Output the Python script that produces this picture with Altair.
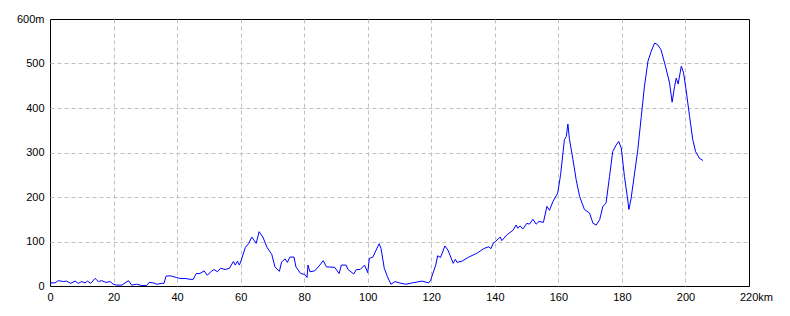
import altair as alt
import pandas as pd

km = [0, 0.3, 1.6, 2.6, 4.2, 5.2, 6.5, 7.9, 8.9, 10, 11, 11.8, 12.8, 14.2, 15.2, 16.3, 17.6, 18.9, 19.9,
      21, 22.6, 24.7, 25.7, 27.3, 28.9, 30.4, 31.2, 32.5, 33.6, 35.2, 35.9, 36.5, 37.8, 38.8, 39.9, 40.9,
      42.5, 44.1, 45.1, 46, 47.2, 48.5, 49.5, 50.6, 51.6, 52.7, 53.7, 55.1, 56.5, 57.7, 58.3, 59, 59.6,
      60, 61.5, 62.5, 63.5, 64.9, 65.8, 67, 68.3, 69.8, 70.8, 72.2, 72.9, 74, 74.7, 75.5, 76.8, 77.4,
      78.9, 80.2, 80.9, 81.2, 81.8, 83.3, 84.7, 86, 87, 89.6, 91, 91.7, 93.2, 93.8, 95.6, 96.4, 97.6,
      99, 100, 100.5, 101.6, 103.6, 104.2, 105.2, 106.2, 107.3, 108.6, 109.9, 112, 114, 117.1, 119.2,
      119.8, 121.4, 122, 122.9, 124.3, 125.3, 126.9, 127.6, 128.1, 129.7, 131.8, 133.9, 134.9, 136.5,
      138, 138.8, 139.6, 140.2, 141.7, 142.2, 143.8, 145.7, 146.7, 147.2, 148, 148.8, 150.1, 150.9,
      152, 153, 153.9, 155.3, 156.4, 157.2, 158.3, 159.8, 160.7, 161.9, 162.5, 163, 163.5, 164.6,
      165.6, 166.7, 168.2, 169.8, 170.9, 171.9, 173, 174, 175, 176.1, 177.1, 178.2, 179, 179.8, 180.8,
      181.7, 182.2, 182.9, 184, 185, 186.1, 187.1, 188.2, 189.2, 190.3, 191.3, 192.3, 193.7, 195,
      195.8, 196.6, 197.1, 197.7, 198.7, 199.4, 200.2, 201.3, 202.3, 203.2, 204.4, 205.5]
elev = [3, 7, 7, 12, 10, 11, 6, 11, 6, 10, 7, 11, 6, 17, 10, 12, 8, 10, 4,
        2, 2, 12, 2, 4, 1, 1, 8, 7, 4, 6, 6, 22, 23, 21, 19, 17,
        17, 15, 15, 28, 28, 34, 24, 32, 37, 32, 40, 37, 40, 55, 47, 56, 47,
        54, 87, 95, 110, 96, 122, 110, 87, 71, 43, 33, 54, 61, 53, 65, 65, 43,
        28, 26, 19, 47, 32, 34, 45, 57, 43, 42, 28, 47, 47, 37, 27, 37, 37,
        47, 30, 62, 65, 95, 84, 40, 21, 4, 10, 7, 4, 7, 11, 7,
        13, 47, 68, 64, 90, 80, 51, 60, 53, 56, 65, 72, 76, 84,
        88, 84, 97, 100, 110, 102, 115, 125, 137, 130, 135, 128, 141, 139,
        150, 139, 145, 143, 179, 170, 190, 209, 250, 329, 336, 364, 329, 284,
        239, 201, 172, 164, 141, 137, 149, 179, 186, 246, 302, 317, 325, 310, 246,
        201, 172, 197, 254, 306, 381, 449, 505, 527, 546, 542, 531, 494, 456,
        413, 449, 467, 454, 494, 479, 441, 381, 329, 302, 287, 282]

x_ticks = [0, 20, 40, 60, 80, 100, 120, 140, 160, 180, 200, 220]
y_ticks = [0, 100, 200, 300, 400, 500, 600]

df = pd.DataFrame({"km": km, "elev": elev})

font = "Liberation Sans"
grid_kw = dict(grid=True, gridColor="#c0c0c0", gridDash=[4, 3], gridWidth=1,
               ticks=False, domain=False, title=None, labelFont=font, labelFontSize=11,
               labelColor="black", labelFlush=False)

chart = alt.Chart(df).mark_line(color="#0000FF", strokeWidth=1, clip=True).encode(
    x=alt.X("km:Q", scale=alt.Scale(domain=[0, 220], nice=False),
            axis=alt.Axis(values=x_ticks,
                          labelExpr="datum.value == 220 ? '220km' : datum.label",
                          labelOffset={"condition": {"test": "datum.value == 220", "value": 7}, "value": 0},
                          gridOpacity={"condition": {"test": "datum.value == 0 || datum.value == 220", "value": 0}, "value": 1},
                          labelPadding=5, **grid_kw)),
    y=alt.Y("elev:Q", scale=alt.Scale(domain=[0, 600], nice=False),
            axis=alt.Axis(values=y_ticks,
                          labelExpr="datum.value == 600 ? '600m' : datum.label",
                          gridOpacity={"condition": {"test": "datum.value == 0 || datum.value == 600", "value": 0}, "value": 1},
                          labelPadding=6, **grid_kw)),
).properties(
    width=699, height=267,
    background="white",
    autosize=alt.AutoSizeParams(type="none"),
    padding={"left": 50, "top": 19, "right": 41, "bottom": 30},
).configure_view(
    stroke="black", strokeWidth=1
)

chart.save("out.html", embed_options={"renderer": "svg", "actions": False})
